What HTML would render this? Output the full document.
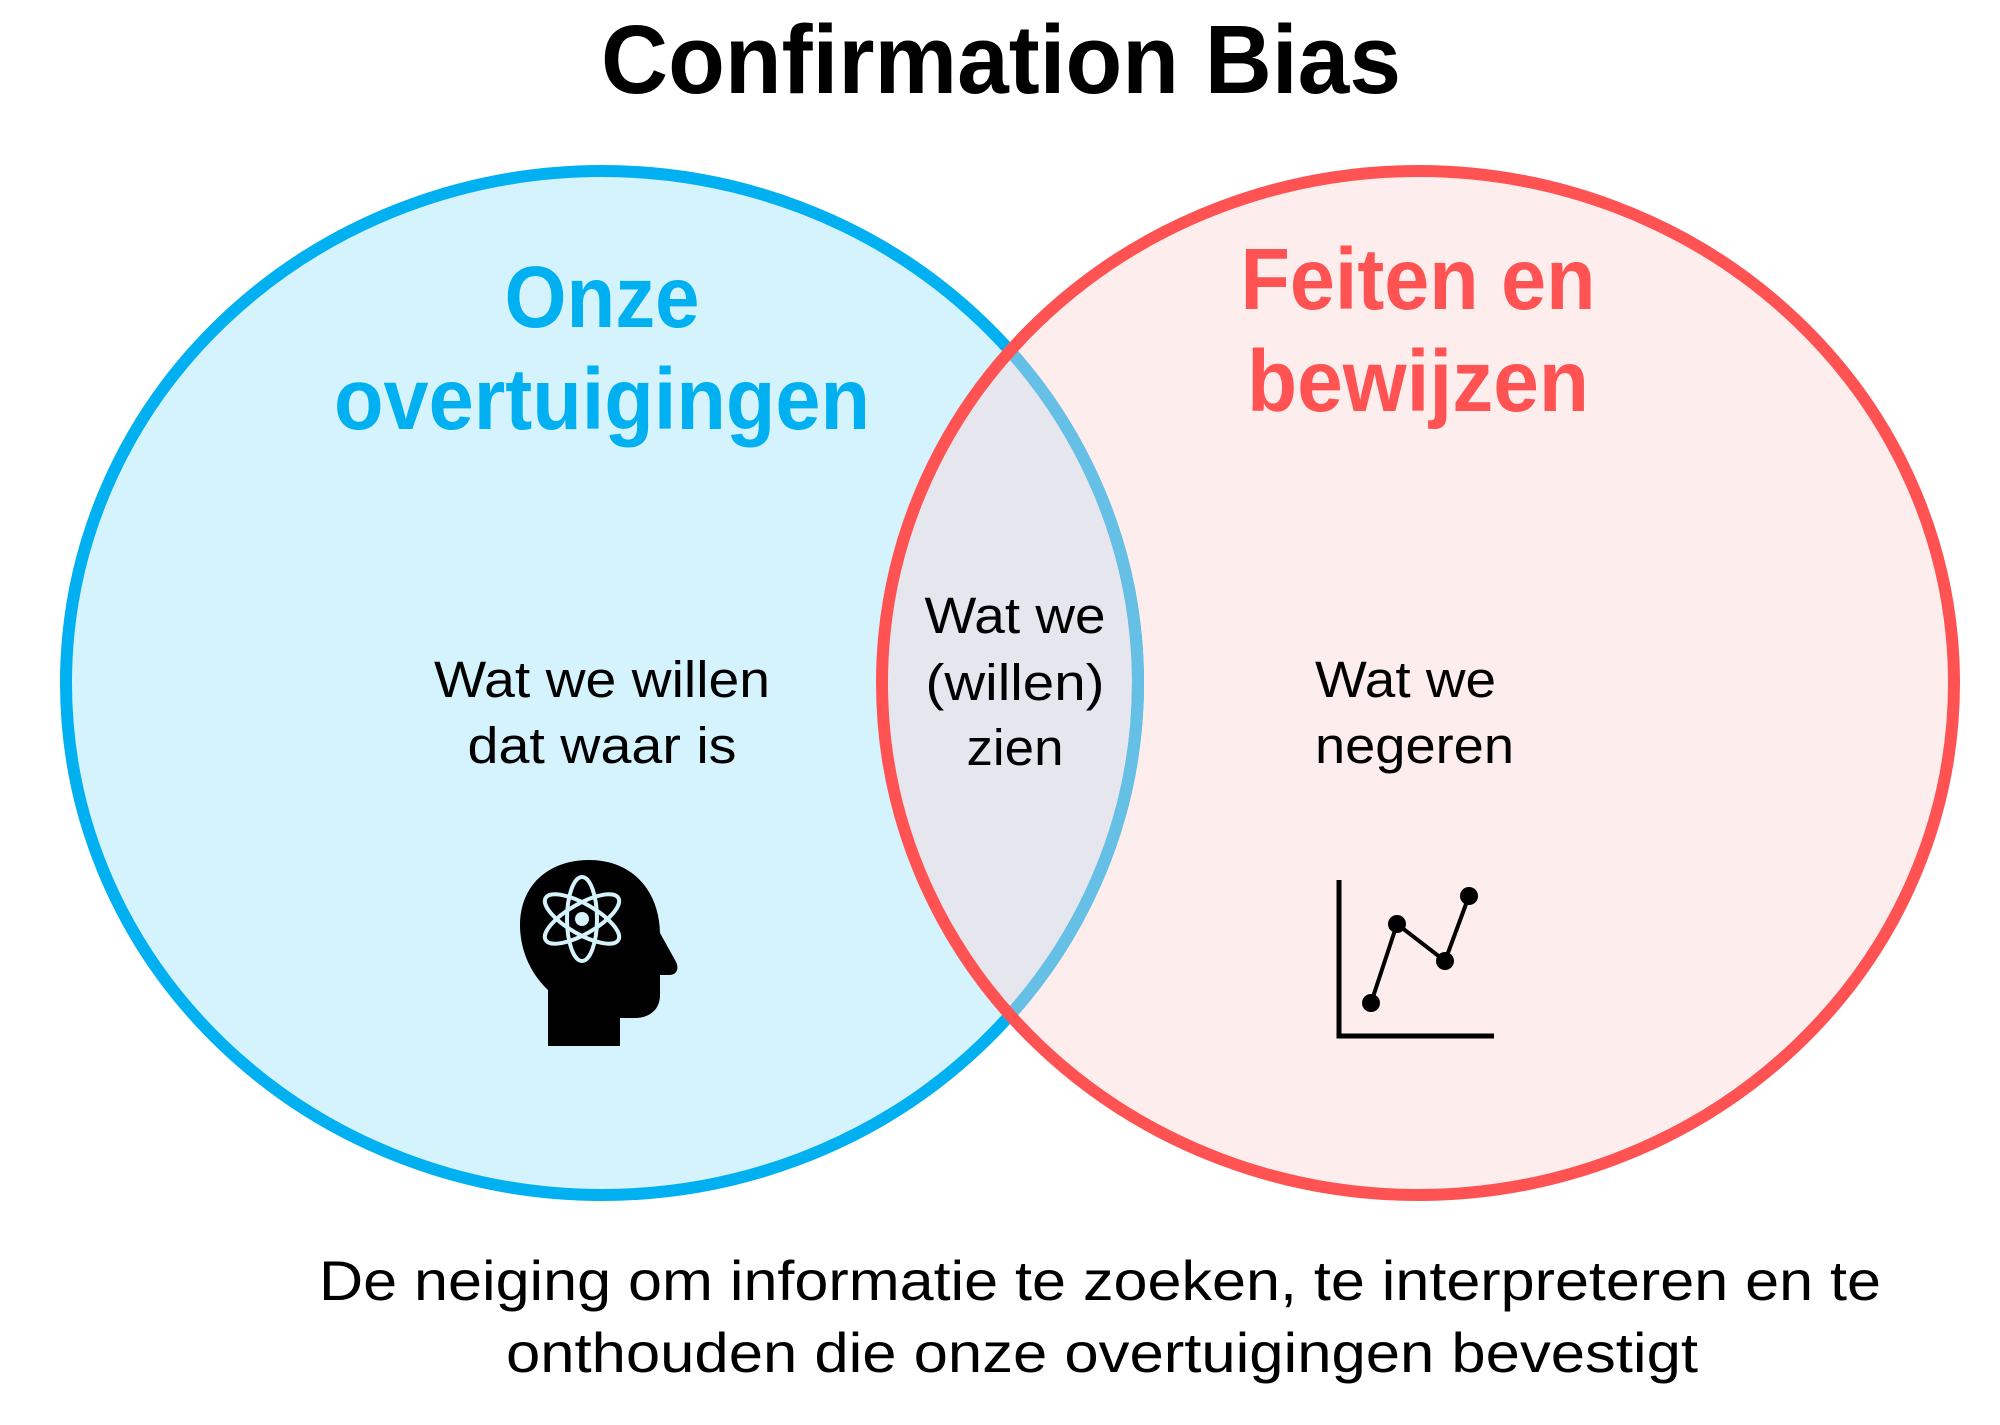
<!DOCTYPE html>
<html><head><meta charset="utf-8"><style>
html,body{margin:0;padding:0;background:#fff}
svg{display:block}
text{font-family:"Liberation Sans",sans-serif}
</style></head><body>
<svg width="2000" height="1425" viewBox="0 0 2000 1425" xmlns="http://www.w3.org/2000/svg">
<defs>
<clipPath id="cr"><ellipse cx="1418" cy="683" rx="536" ry="512"/></clipPath>
</defs>
<rect width="2000" height="1425" fill="#fff"/>
<ellipse cx="602" cy="683" rx="536" ry="512" fill="#d5f3fd"/>
<ellipse cx="1418" cy="683" rx="536" ry="512" fill="#feeded"/>
<ellipse cx="602" cy="683" rx="536" ry="512" fill="#e6e6ee" clip-path="url(#cr)"/>
<ellipse cx="602" cy="683" rx="536" ry="512" fill="none" stroke="#00b0f0" stroke-width="12"/>
<ellipse cx="602" cy="683" rx="536" ry="512" fill="none" stroke="#66bfe4" stroke-width="12" clip-path="url(#cr)"/>
<ellipse cx="1418" cy="683" rx="536" ry="512" fill="none" stroke="#ff5353" stroke-width="12"/>

<text x="1001" y="93" font-size="97" font-weight="bold" text-anchor="middle" textLength="800" lengthAdjust="spacingAndGlyphs">Confirmation Bias</text>

<text x="602" y="327" font-size="87" font-weight="bold" fill="#00b0f0" text-anchor="middle" textLength="195" lengthAdjust="spacingAndGlyphs">Onze</text>
<text x="602" y="429" font-size="87" font-weight="bold" fill="#00b0f0" text-anchor="middle" textLength="536" lengthAdjust="spacingAndGlyphs">overtuigingen</text>
<text x="1418" y="309" font-size="87" font-weight="bold" fill="#ff5353" text-anchor="middle" textLength="355" lengthAdjust="spacingAndGlyphs">Feiten en</text>
<text x="1418" y="411" font-size="87" font-weight="bold" fill="#ff5353" text-anchor="middle" textLength="342" lengthAdjust="spacingAndGlyphs">bewijzen</text>

<g font-size="51" fill="#000">
<text x="602" y="697" text-anchor="middle" textLength="336" lengthAdjust="spacingAndGlyphs">Wat we willen</text>
<text x="602" y="763" text-anchor="middle" textLength="269" lengthAdjust="spacingAndGlyphs">dat waar is</text>
<text x="1015" y="633" text-anchor="middle" textLength="181" lengthAdjust="spacingAndGlyphs">Wat we</text>
<text x="1015" y="700" text-anchor="middle" textLength="179" lengthAdjust="spacingAndGlyphs">(willen)</text>
<text x="1015" y="765" text-anchor="middle" textLength="97" lengthAdjust="spacingAndGlyphs">zien</text>
<text x="1315" y="697" textLength="181" lengthAdjust="spacingAndGlyphs">Wat we</text>
<text x="1315" y="763" textLength="199" lengthAdjust="spacingAndGlyphs">negeren</text>
</g>
<g font-size="56" fill="#000">
<text x="319" y="1300" textLength="1562" lengthAdjust="spacingAndGlyphs">De neiging om informatie te zoeken, te interpreteren en te</text>
<text x="506" y="1372" textLength="1192" lengthAdjust="spacingAndGlyphs">onthouden die onze overtuigingen bevestigt</text>
</g>

<!-- head -->
<g transform="translate(-3,0)">
<path d="M551,1046 L551,990 C530,970 523,945 523,925 C523,885 552,860 592,860 C635,860 662,890 663,933 L678,960 C683,968 680,975 672,975 L663,975 L663,995 C663,1010 652,1018 638,1018 L623,1018 L623,1046 Z" fill="#000"/>
<g fill="none" stroke="#d5f3fd" stroke-width="4">
<ellipse cx="585" cy="919" rx="42" ry="15" transform="rotate(90 585 919)"/>
<ellipse cx="585" cy="919" rx="42" ry="15" transform="rotate(30 585 919)"/>
<ellipse cx="585" cy="919" rx="42" ry="15" transform="rotate(-30 585 919)"/>
</g>
<circle cx="585" cy="919" r="7" fill="#d5f3fd"/>
</g>

<!-- chart -->
<g transform="translate(-2,0)">
<path d="M1341,880 L1341,1036 L1496,1036" fill="none" stroke="#000" stroke-width="5"/>
<polyline points="1373,1003 1399,924 1447,961 1471,896" fill="none" stroke="#000" stroke-width="4"/>
<g fill="#000">
<circle cx="1373" cy="1003" r="9"/><circle cx="1399" cy="924" r="9"/>
<circle cx="1447" cy="961" r="9"/><circle cx="1471" cy="896" r="9"/>
</g>
</g>
</svg>
</body></html>
